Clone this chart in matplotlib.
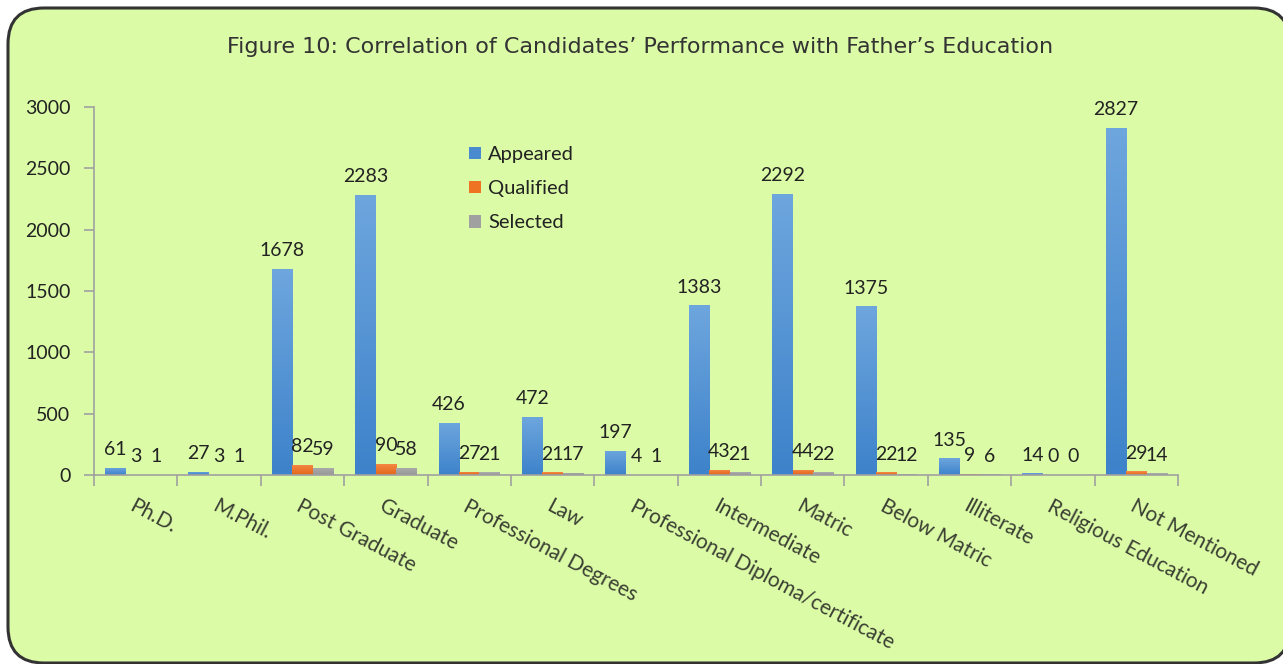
import matplotlib
matplotlib.use("Agg")
import matplotlib.pyplot as plt
from matplotlib.patches import FancyBboxPatch
from matplotlib.colors import LinearSegmentedColormap
import numpy as np

categories = ["Ph.D.", "M.Phil.", "Post Graduate", "Graduate", "Professional Degrees",
              "Law", "Professional Diploma/certificate", "Intermediate", "Matric",
              "Below Matric", "Illiterate", "Religious Education", "Not Mentioned"]
appeared = [61, 27, 1678, 2283, 426, 472, 197, 1383, 2292, 1375, 135, 14, 2827]
qualified = [3, 3, 82, 90, 27, 21, 4, 43, 44, 22, 9, 0, 29]
selected = [1, 1, 59, 58, 21, 17, 1, 21, 22, 12, 6, 0, 14]
series_names = ["Appeared", "Qualified", "Selected"]
colors = ["#4A8BD0", "#EE7423", "#A0A0A0"]
grad_top = ["#6EA6DE", "#F58A45", "#ADADAD"]
grad_bot = ["#3D82CA", "#E2661A", "#979797"]
title = "Figure 10: Correlation of Candidates\u2019 Performance with Father\u2019s Education"

W, H = 1283, 664
fig = plt.figure(figsize=(W / 100, H / 100), dpi=100)
fig.patch.set_facecolor("white")

# background axes in pixel coordinates (y downwards)
bg = fig.add_axes([0, 0, 1, 1], zorder=-10)
bg.set_xlim(0, W)
bg.set_ylim(H, 0)
bg.axis("off")
box = FancyBboxPatch((8, 8), 1290 - 8, 663 - 8,
                     boxstyle="round,pad=0,rounding_size=36",
                     facecolor="#DBFBA6", edgecolor="#333333", linewidth=2.2)
bg.add_patch(box)
bg.text(640, 47, title, ha="center", va="center",
        fontsize=16, color="#333333", family="DejaVu Sans")

ax_left, ax_right = 94, 1178
ax_top, ax_bottom = 107, 475
ax = fig.add_axes([ax_left / W, 1 - ax_bottom / H, (ax_right - ax_left) / W,
                   (ax_bottom - ax_top) / H])
ax.set_facecolor("none")

n = len(categories)
x = np.arange(n)
bw = 0.245
data = [appeared, qualified, selected]
ax.set_xlim(-0.5, n - 0.5)
ax.set_ylim(0, 3000)
grad = np.linspace(1, 0, 256).reshape(-1, 1)
for i, (vals, col, name) in enumerate(zip(data, colors, series_names)):
    pos = x + (i - 1) * bw
    bars = ax.bar(pos, vals, width=bw, color=col, label=name, zorder=2)
    cmap = LinearSegmentedColormap.from_list("g%d" % i, [grad_bot[i], grad_top[i]])
    for b in bars:
        bx, by = b.get_x(), b.get_y()
        bwid, bh = b.get_width(), b.get_height()
        if bh <= 0:
            continue
        im = ax.imshow(grad, cmap=cmap, aspect="auto", zorder=2.5,
                       extent=(bx, bx + bwid, by, by + bh), origin="upper")
        im.set_clip_path(b)
    for p, v in zip(pos, vals):
        ax.annotate(str(v), (p, v), xytext=(0, 7), textcoords="offset points",
                    ha="center", va="bottom", fontsize=14,
                    color="#222222", family="Lato")

ax.set_xlim(-0.5, n - 0.5)
ax.set_ylim(0, 3000)
ax.set_yticks(range(0, 3001, 500))
ax.set_yticklabels([str(v) for v in range(0, 3001, 500)], fontsize=14,
                   color="#222222", family="Lato")
ax.set_xticks(np.arange(n + 1) - 0.5)
ax.set_xticklabels([])
ax.tick_params(axis="x", length=8, color="#A0A0A0", width=1.2)
ax.tick_params(axis="y", length=7, color="#A0A0A0", width=1.2, pad=10)
for s in ["top", "right"]:
    ax.spines[s].set_visible(False)
for s in ["left", "bottom"]:
    ax.spines[s].set_color("#A0A0A0")
    ax.spines[s].set_linewidth(1.2)
    ax.spines[s].set_zorder(3)

for i, c in enumerate(categories):
    ax.text(i, -170, c, rotation=-28, rotation_mode="anchor", ha="left", va="top",
            fontsize=15, color="#3A3F33", family="Lato")

leg = ax.legend(loc="upper left", bbox_to_anchor=((469 - ax_left) / (ax_right - ax_left),
                (ax_bottom - 146) / (ax_bottom - ax_top)),
                frameon=False, handlelength=0.6, handleheight=0.6, handletextpad=0.35,
                labelspacing=0.85, borderpad=0, borderaxespad=0,
                prop={"family": "Lato", "size": 14.5})
for t in leg.get_texts():
    t.set_color("#222222")

fig.savefig("out.png", dpi=100, facecolor="white")
